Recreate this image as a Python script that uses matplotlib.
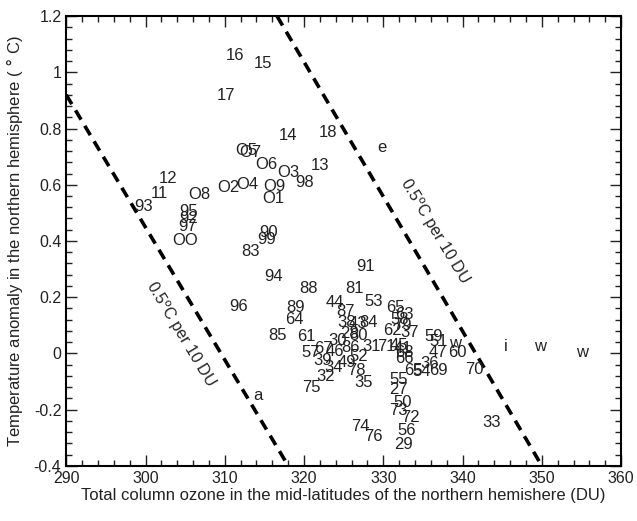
import matplotlib
matplotlib.use("Agg")
import matplotlib.pyplot as plt
from matplotlib.ticker import MultipleLocator, FormatStrFormatter

plt.rcParams["font.family"] = ["Liberation Sans", "DejaVu Sans"]
plt.rcParams["axes.unicode_minus"] = False

# point labels (year codes) with ozone (DU) and temperature anomaly (deg C)
labels = ["16", "15", "17", "14", "18", "e", "13", "98", "O3", "O6",
          "O5", "O7", "O4", "O2", "O9", "O1", "O8", "12", "11", "93",
          "95", "92", "97", "OO", "90", "99", "83", "94", "96", "88",
          "91", "81", "53", "44", "87", "89", "64", "85", "61", "65",
          "63", "58", "79", "84", "38", "43", "62", "37", "28", "80",
          "30", "31", "71", "45", "41", "68", "66", "59", "51", "w",
          "47", "60", "70", "i", "w", "w", "36", "65", "54", "69",
          "55", "27", "50", "73", "72", "74", "76", "56", "29", "33",
          "75", "35", "a", "57", "67", "46", "86", "52", "39", "34",
          "49", "78", "32"]
ozone = [311.3, 314.8, 310.1, 318.0, 323.0, 329.8, 322.0, 320.1, 318.0, 315.3,
         312.7, 313.2, 312.8, 310.4, 316.2, 316.1, 306.8, 302.9, 301.7, 299.8,
         305.4, 305.5, 305.3, 305.0, 315.5, 315.3, 313.3, 316.1, 311.7, 320.6,
         327.8, 326.4, 328.8, 323.9, 325.2, 318.9, 318.8, 316.6, 320.3, 331.5,
         332.7, 332.1, 332.4, 328.1, 325.4, 326.8, 331.1, 333.3, 325.7, 326.9,
         324.2, 328.5, 330.4, 332.0, 332.5, 332.7, 332.7, 336.3, 337.0, 339.1,
         336.9, 339.3, 341.5, 345.5, 349.8, 355.1, 335.8, 333.8, 334.9, 336.9,
         331.9, 331.9, 332.4, 331.9, 333.4, 327.1, 328.8, 332.9, 332.5, 343.6,
         320.9, 327.5, 314.2, 320.8, 322.4, 323.9, 325.8, 326.9, 322.3, 323.7,
         325.4, 326.6, 322.7]
temp = [1.061, 1.032, 0.918, 0.776, 0.786, 0.733, 0.669, 0.609, 0.644, 0.673,
        0.722, 0.715, 0.601, 0.591, 0.594, 0.552, 0.566, 0.623, 0.569, 0.523,
        0.505, 0.480, 0.452, 0.402, 0.431, 0.406, 0.363, 0.274, 0.167, 0.231,
        0.310, 0.231, 0.185, 0.181, 0.149, 0.164, 0.121, 0.064, 0.060, 0.164,
        0.139, 0.121, 0.100, 0.110, 0.110, 0.107, 0.082, 0.075, 0.071, 0.064,
        0.046, 0.025, 0.025, 0.028, 0.018, 0.004, -0.018, 0.060, 0.043, 0.036,
        0.004, 0.004, -0.057, 0.025, 0.025, 0.004, -0.036, -0.060, -0.064, -0.060,
        -0.093, -0.128, -0.174, -0.203, -0.228, -0.260, -0.295, -0.274, -0.324, -0.246,
        -0.121, -0.103, -0.149, 0.004, 0.018, 0.007, 0.021, -0.011, -0.025, -0.050,
        -0.032, -0.060, -0.082]

# two reference lines, 0.5 C per 10 DU
line1_x = [290.0, 318.0]
line1_y = [0.92, -0.4]
line2_x = [316.6, 350.0]
line2_y = [1.2, -0.4]

fig = plt.figure(figsize=(6.37, 5.21), dpi=100)
ax = fig.add_axes([0.104, 0.106, 0.871, 0.863])

for lx, ly in [(line1_x, line1_y), (line2_x, line2_y)]:
    ax.plot(lx, ly, color="black", lw=2.6, linestyle=(0, (3, 2)), solid_capstyle="butt")

for t, x, y in zip(labels, ozone, temp):
    ax.text(x, y, t, ha="center", va="center", fontsize=12, color="#222222")

ax.text(304.4, 0.068, "0.5$^{\\mathrm{o}}$C per 10 DU", rotation=-59, ha="center",
        va="center", fontsize=11.5, color="#222222")
ax.text(336.4, 0.434, "0.5$^{\\mathrm{o}}$C per 10 DU", rotation=-59, ha="center",
        va="center", fontsize=11.5, color="#222222")

ax.set_xlim(290, 360)
ax.set_ylim(-0.4, 1.2)
ax.xaxis.set_major_locator(MultipleLocator(10))
ax.xaxis.set_minor_locator(MultipleLocator(2))
ax.yaxis.set_major_locator(MultipleLocator(0.2))
ax.yaxis.set_minor_locator(MultipleLocator(0.04))
ax.yaxis.set_major_formatter(FormatStrFormatter("%g"))
ax.tick_params(which="both", direction="in", top=True, right=True, labelsize=11.5,
               colors="#222222", width=1)
ax.tick_params(which="major", length=8)
ax.tick_params(which="minor", length=4)
for s in ax.spines.values():
    s.set_linewidth(1.5)

ax.set_xlabel("Total column ozone in the mid-latitudes of the northern hemishere (DU)",
              fontsize=12, color="#222222", labelpad=2)
ax.set_ylabel("Temperature anomaly in the northern hemisphere ( $\\degree$ C)",
              fontsize=12, color="#222222", labelpad=6)

fig.savefig("out.png", dpi=100)
